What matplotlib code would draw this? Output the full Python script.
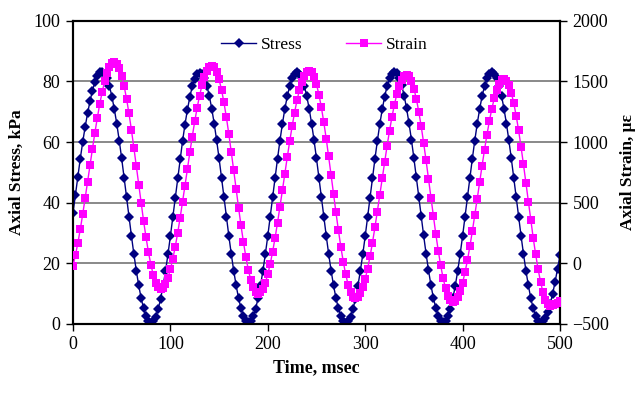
import numpy as np
import matplotlib
matplotlib.use("Agg")
import matplotlib.pyplot as plt

plt.rcParams['font.family'] = ['Liberation Serif', 'DejaVu Serif']

# sampling grid, msec (every 2.5 msec)
time_ms = np.arange(201) * 2.5

# axial stress, kPa
stress = [
    36.5, 42.5, 48.5, 54.5, 60.0, 65.0, 69.5, 73.5, 77.0, 79.8, 81.8, 83.0,
    83.2, 82.6, 81.0, 78.4, 75.0, 70.8, 66.0, 60.5, 54.6, 48.3, 41.9, 35.4, 29.1, 23.1, 17.6, 12.7, 8.5, 5.1, 2.6, 1.0, 0.4,
    1.0, 2.4, 4.9, 8.3, 12.5, 17.4, 22.9, 28.9, 35.2, 41.6, 48.0, 54.3, 60.3, 65.8, 70.7, 74.9, 78.4, 80.9, 82.4, 82.9,
    82.4, 81.0, 78.6, 75.2, 71.0, 66.1, 60.6, 54.6, 48.3, 41.9, 35.4, 29.1, 23.1, 17.6, 12.7, 8.5, 5.1, 2.6, 1.1, 0.5,
    1.0, 2.5, 5.0, 8.4, 12.6, 17.5, 23.0, 29.0, 35.3, 41.8, 48.2, 54.5, 60.5, 66.0, 70.9, 75.1, 78.5, 81.0, 82.5, 83.1,
    82.6, 81.1, 78.6, 75.2, 71.0, 66.1, 60.6, 54.6, 48.3, 41.9, 35.4, 29.1, 23.1, 17.6, 12.7, 8.5, 5.1, 2.6, 1.0, 0.4,
    0.9, 2.4, 4.9, 8.3, 12.5, 17.4, 22.9, 28.9, 35.2, 41.7, 48.1, 54.4, 60.4, 65.9, 70.8, 75.0, 78.5, 81.0, 82.6, 83.2,
    82.7, 81.2, 78.7, 75.3, 71.1, 66.2, 60.7, 54.7, 48.4, 42.0, 35.5, 29.2, 23.2, 17.7, 12.8, 8.6, 5.2, 2.7, 1.1, 0.5,
    1.0, 2.5, 5.0, 8.4, 12.6, 17.5, 23.0, 29.0, 35.3, 41.8, 48.2, 54.5, 60.5, 66.0, 70.9, 75.1, 78.5, 81.0, 82.6, 83.1,
    82.6, 81.1, 78.6, 75.2, 71.0, 66.1, 60.6, 54.6, 48.3, 41.9, 35.4, 29.1, 23.1, 17.6, 12.7, 8.5, 5.1, 2.6, 1.0, 0.4,
    0.9, 2.1, 4.0, 6.7, 10.0, 13.9, 18.2, 22.6,
]

# axial strain, microstrain
strain = [
    -20, 65, 166, 280, 404, 535, 671, 809, 945, 1076, 1200, 1314, 1414, 1500, 1569, 1619, 1650, 1660,
    1647, 1609, 1547, 1463, 1358, 1236, 1101, 955, 802, 648, 495, 349, 214, 92, -13, -97, -159, -197, -210,
    -200, -169, -119, -50, 36, 136, 250, 374, 505, 641, 779, 915, 1046, 1170, 1284, 1384, 1470, 1539, 1589, 1620, 1630,
    1617, 1579, 1517, 1432, 1327, 1204, 1068, 921, 768, 612, 459, 312, 176, 53, -52, -137, -199, -237, -250,
    -240, -209, -159, -90, -5, 96, 210, 334, 465, 601, 739, 875, 1006, 1130, 1244, 1344, 1430, 1499, 1549, 1580, 1590,
    1577, 1539, 1477, 1392, 1287, 1164, 1028, 881, 728, 572, 419, 272, 136, 13, -92, -177, -239, -277, -290,
    -280, -249, -199, -130, -44, 57, 171, 296, 427, 564, 701, 838, 970, 1094, 1208, 1309, 1395, 1464, 1514, 1545, 1555,
    1542, 1504, 1442, 1357, 1252, 1130, 994, 848, 695, 540, 387, 241, 105, -18, -122, -207, -269, -307, -320,
    -310, -279, -229, -160, -75, 26, 140, 264, 395, 531, 669, 805, 936, 1060, 1174, 1274, 1360, 1429, 1479, 1510, 1520,
    1507, 1469, 1407, 1323, 1218, 1096, 961, 815, 662, 508, 355, 209, 74, -48, -153, -237, -299, -337, -350,
    -347, -338, -325, -310,
]

fig = plt.figure(figsize=(6.4, 3.94), dpi=100)
ax = fig.add_axes([0.114, 0.178, 0.761, 0.769])
ax2 = ax.twinx()

ax.set_xlim(0, 500)
ax.set_ylim(0, 100)
ax2.set_ylim(-500, 2000)
ax.set_xticks(range(0, 501, 100))
ax.set_yticks(range(0, 101, 20))
ax2.set_yticks(range(-500, 2001, 500))

for y in range(20, 100, 20):
    ax.axhline(y, color='#808080', lw=1.3, zorder=0)

ls, = ax.plot(time_ms, stress, color='#000080', lw=1, marker='D', ms=5.2,
              markeredgewidth=0, label='Stress', zorder=3)
le, = ax2.plot(time_ms, strain, color='#FF00FF', lw=1, marker='s', ms=5.8,
               markeredgewidth=0, label='Strain', zorder=3)

for a in (ax, ax2):
    for s in a.spines.values():
        s.set_linewidth(1.5)
    a.tick_params(direction='out', length=5, width=1, labelsize=13, pad=4)

ax.set_xlabel('Time, msec', fontsize=13, fontweight='bold', labelpad=4)
ax.set_ylabel('Axial Stress, kPa', fontsize=12.5, fontweight='bold', labelpad=6)
ax2.set_ylabel('Axial Strain, με', fontsize=12.5, fontweight='bold', labelpad=8)

ax.legend(handles=[ls, le], loc='center', bbox_to_anchor=(0.517, 0.92), ncol=2,
          frameon=False, fontsize=12.5, handlelength=2.0, columnspacing=2.5,
          handletextpad=0.3, borderaxespad=0)

fig.savefig('out.png', dpi=100)
